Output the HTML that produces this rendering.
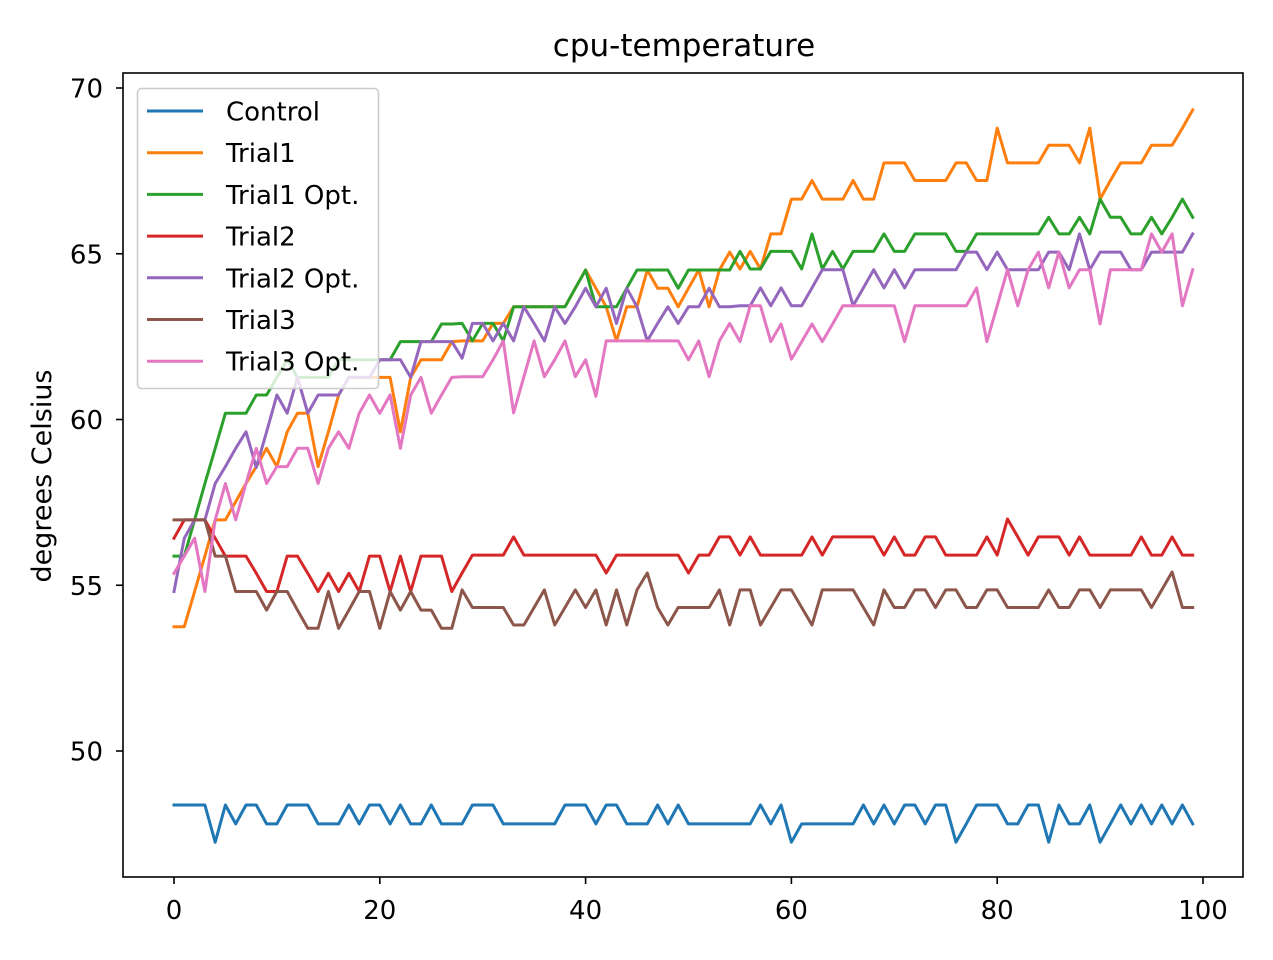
<!DOCTYPE html>
<html><head><meta charset="utf-8"><style>
html,body{margin:0;padding:0;background:#fff;}
svg text{font-family:"DejaVu Sans","Liberation Sans",sans-serif;fill:#000;}
</style></head><body>
<svg id="chart" width="1273" height="955" viewBox="0 0 1273 955" xmlns="http://www.w3.org/2000/svg">
<rect width="1273" height="955" fill="#fff"/>
<text x="684" y="56" font-size="31" text-anchor="middle">cpu-temperature</text>
<text x="0" y="0" font-size="27" text-anchor="middle" transform="translate(51 476) rotate(-90)">degrees Celsius</text>
<g id="series"></g>
<rect x="123" y="73" width="1120" height="804" fill="none" stroke="#000" stroke-width="1.6"/>
<g id="axes"></g>
<g id="legend"></g>
</svg>
<script>
const H=48.37,M=47.8,L=47.25;
const seriesNames=["Control","Trial1","Trial1 Opt.","Trial2","Trial2 Opt.","Trial3","Trial3 Opt."];
const seriesColors=["#1f77b4","#ff7f0e","#2ca02c","#d62728","#9467bd","#8c564b","#e377c2"];
const xTicks=[0,20,40,60,80,100];
const yTicks=[50,55,60,65,70];
const control=[H,H,H,H,L,H,M,H,H,M,M,H,H,H,M,M,M,H,M,H,H,M,H,M,M,H,M,M,M,H,H,H,M,M,M,M,M,M,H,H,H,M,H,H,M,M,M,H,M,H,M,M,M,M,M,M,M,H,M,H,L,M,M,M,M,M,M,H,M,H,M,H,H,M,H,H,L,M,H,H,H,M,M,H,H,L,H,M,M,H,L,M,H,M,H,M,H,M,H,M];
const trial1=[53.75,53.75,54.81,55.88,56.97,56.97,57.52,58.07,58.58,59.13,58.58,59.63,60.19,60.19,58.58,59.63,60.74,61.27,61.27,61.27,61.27,61.27,59.63,61.27,61.8,61.8,61.8,62.35,62.37,62.37,62.37,62.9,62.9,63.4,63.4,63.4,63.4,63.4,63.4,63.96,64.51,63.96,63.4,62.37,63.4,63.4,64.51,63.96,63.96,63.4,63.96,64.51,63.4,64.51,65.05,64.54,65.07,64.54,65.6,65.6,66.65,66.65,67.21,66.65,66.65,66.65,67.21,66.65,66.65,67.74,67.74,67.74,67.21,67.21,67.21,67.21,67.74,67.74,67.21,67.21,68.79,67.74,67.74,67.74,67.74,68.27,68.27,68.27,67.74,68.79,66.65,67.21,67.74,67.74,67.74,68.27,68.27,68.27,68.79,69.34];
const trial1Opt=[55.88,55.88,56.97,58.07,59.13,60.19,60.19,60.19,60.74,60.74,61.27,61.8,61.27,61.27,61.27,61.27,61.8,61.8,61.8,61.8,61.8,61.8,62.35,62.35,62.35,62.35,62.88,62.88,62.9,62.37,62.9,62.9,62.37,63.4,63.4,63.4,63.4,63.4,63.4,63.96,64.51,63.4,63.4,63.4,63.96,64.51,64.51,64.51,64.51,63.96,64.51,64.51,64.51,64.51,64.51,65.07,64.54,64.54,65.07,65.07,65.07,64.54,65.6,64.54,65.07,64.54,65.07,65.07,65.07,65.6,65.07,65.07,65.6,65.6,65.6,65.6,65.07,65.07,65.6,65.6,65.6,65.6,65.6,65.6,65.6,66.1,65.6,65.6,66.1,65.6,66.65,66.1,66.1,65.6,65.6,66.1,65.6,66.1,66.65,66.1];
const trial2=[56.42,56.97,56.97,56.97,56.42,55.88,55.88,55.88,55.36,54.81,54.81,55.88,55.88,55.36,54.81,55.36,54.81,55.36,54.81,55.88,55.88,54.81,55.88,54.81,55.88,55.88,55.88,54.81,55.37,55.91,55.91,55.91,55.91,56.46,55.91,55.91,55.91,55.91,55.91,55.91,55.91,55.91,55.37,55.91,55.91,55.91,55.91,55.91,55.91,55.91,55.37,55.91,55.91,56.46,56.46,55.91,56.46,55.91,55.91,55.91,55.91,55.91,56.46,55.91,56.46,56.46,56.46,56.46,56.46,55.91,56.46,55.91,55.91,56.46,56.46,55.91,55.91,55.91,55.91,56.46,55.91,57.0,56.46,55.91,56.46,56.46,56.46,55.91,56.46,55.91,55.91,55.91,55.91,55.91,56.46,55.91,55.91,56.46,55.91,55.91];
const trial2Opt=[54.81,56.42,56.97,56.97,58.07,58.58,59.13,59.63,58.55,59.63,60.74,60.19,61.27,60.19,60.74,60.74,60.74,61.27,61.27,61.27,61.8,61.8,61.8,61.27,62.35,62.35,62.35,62.35,61.85,62.9,62.9,62.37,62.9,62.37,63.4,62.9,62.37,63.4,62.9,63.4,63.96,63.4,63.96,62.9,63.96,63.4,62.37,62.9,63.4,62.9,63.4,63.4,63.96,63.4,63.4,63.43,63.43,63.97,63.43,63.97,63.43,63.43,63.97,64.52,64.52,64.52,63.43,63.97,64.52,63.97,64.52,63.97,64.52,64.52,64.52,64.52,64.52,65.05,65.05,64.52,65.05,64.52,64.52,64.52,64.52,65.05,65.05,64.52,65.6,64.52,65.05,65.05,65.05,64.52,64.52,65.05,65.05,65.05,65.05,65.6];
const trial3=[56.97,56.97,56.97,56.97,55.88,55.88,54.81,54.81,54.81,54.25,54.81,54.81,54.25,53.7,53.7,54.81,53.7,54.25,54.81,54.81,53.7,54.81,54.25,54.81,54.25,54.25,53.7,53.7,54.86,54.33,54.33,54.33,54.33,53.8,53.8,54.33,54.86,53.8,54.33,54.86,54.33,54.86,53.8,54.86,53.8,54.86,55.37,54.33,53.8,54.33,54.33,54.33,54.33,54.86,53.8,54.86,54.86,53.8,54.33,54.86,54.86,54.33,53.8,54.86,54.86,54.86,54.86,54.33,53.8,54.86,54.33,54.33,54.86,54.86,54.33,54.86,54.86,54.33,54.33,54.86,54.86,54.33,54.33,54.33,54.33,54.86,54.33,54.33,54.86,54.86,54.33,54.86,54.86,54.86,54.86,54.33,54.86,55.4,54.33,54.33];
const trial3Opt=[55.36,55.88,56.42,54.81,56.97,58.07,56.97,58.07,59.13,58.07,58.58,58.58,59.13,59.13,58.07,59.13,59.63,59.13,60.19,60.74,60.19,60.74,59.13,60.74,61.27,60.19,60.74,61.27,61.29,61.29,61.29,61.8,62.37,60.2,61.29,62.37,61.29,61.8,62.37,61.29,61.8,60.7,62.37,62.37,62.37,62.37,62.37,62.37,62.37,62.37,61.8,62.37,61.29,62.37,62.9,62.35,63.43,63.43,62.35,62.88,61.82,62.35,62.88,62.35,62.88,63.43,63.43,63.43,63.43,63.43,63.43,62.35,63.43,63.43,63.43,63.43,63.43,63.43,63.97,62.35,63.43,64.52,63.43,64.52,65.05,63.97,65.05,63.97,64.52,64.52,62.88,64.52,64.52,64.52,64.52,65.6,65.05,65.6,63.43,64.52];
const allSeries=[control,trial1,trial1Opt,trial2,trial2Opt,trial3,trial3Opt];

const NS="http://www.w3.org/2000/svg";
const X0=174,X1=1203,Y70=88,Y50=751;
function xs(v){return X0+(X1-X0)*v/100;}
function ys(v){return Y50+(Y70-Y50)*(v-50)/20;}
function mk(tag,attrs,parent){const e=document.createElementNS(NS,tag);for(const k in attrs)e.setAttribute(k,attrs[k]);parent.appendChild(e);return e;}

const sg=document.getElementById('series');
allSeries.forEach((arr,si)=>{
  const pts=arr.map((v,i)=>xs(i).toFixed(1)+','+ys(v).toFixed(1)).join(' ');
  const pl=mk('polyline',{points:pts,fill:'none',stroke:seriesColors[si],'stroke-width':3,'stroke-linejoin':'round','stroke-linecap':'square'},sg);
  
  
});

const ag=document.getElementById('axes');
xTicks.forEach(t=>{
  const ln=mk('line',{x1:xs(t),x2:xs(t),y1:877,y2:884,stroke:'#000','stroke-width':1.6},ag);
  
  
  const tx=mk('text',{x:xs(t),y:919,'font-size':26,'text-anchor':'middle'},ag);
  tx.textContent=String(t);
  
  
});
yTicks.forEach(t=>{
  const ln=mk('line',{x1:116,x2:123,y1:ys(t),y2:ys(t),stroke:'#000','stroke-width':1.6},ag);
  
  
  const tx=mk('text',{x:103,y:ys(t)+9.5,'font-size':26,'text-anchor':'end'},ag);
  tx.textContent=String(t);
  
  
});

const lg=document.getElementById('legend');
const box=mk('rect',{x:137.5,y:88.5,width:241,height:300,rx:4,fill:'#fff','fill-opacity':0.8,stroke:'#ccc','stroke-width':1.6},lg);


seriesNames.forEach((n,i)=>{
  const y=111+i*41.7;
  const ln=mk('line',{x1:147,x2:203,y1:y,y2:y,stroke:seriesColors[i],'stroke-width':3},lg);
  
  
  const tx=mk('text',{x:226,y:y+9.5,'font-size':26},lg);
  tx.textContent=n;
  
  
});
</script>
</body></html>
